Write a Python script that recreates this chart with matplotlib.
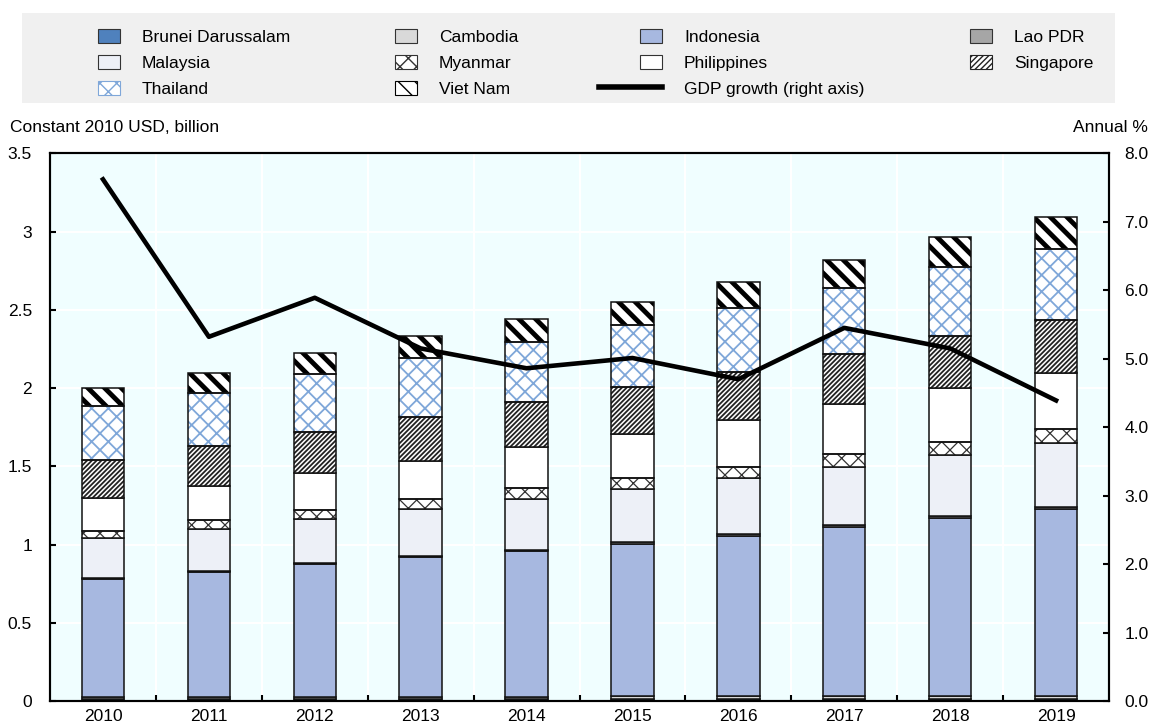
import matplotlib
matplotlib.use("Agg")
import matplotlib.pyplot as plt
import numpy as np
from matplotlib.patches import Patch, Rectangle
from matplotlib.lines import Line2D
from matplotlib.legend_handler import HandlerBase
from matplotlib.ticker import FormatStrFormatter

plt.rcParams['font.family'] = ['Liberation Sans', 'DejaVu Sans']

# data (USD trillion, constant 2010)
years = ['2010', '2011', '2012', '2013', '2014', '2015', '2016', '2017', '2018', '2019']
brunei = [0.012, 0.012, 0.013, 0.013, 0.013, 0.013, 0.012, 0.012, 0.012, 0.013]
cambodia = [0.011, 0.012, 0.013, 0.014, 0.015, 0.016, 0.017, 0.018, 0.020, 0.021]
indonesia = [0.755, 0.800, 0.850, 0.890, 0.930, 0.975, 1.025, 1.080, 1.135, 1.190]
lao = [0.007, 0.008, 0.008, 0.009, 0.010, 0.011, 0.011, 0.012, 0.013, 0.014]
malaysia = [0.257, 0.266, 0.279, 0.300, 0.323, 0.340, 0.358, 0.375, 0.392, 0.410]
myanmar = [0.047, 0.058, 0.060, 0.062, 0.068, 0.072, 0.074, 0.079, 0.085, 0.089]
philippines = [0.211, 0.217, 0.234, 0.246, 0.264, 0.279, 0.299, 0.322, 0.341, 0.362]
singapore = [0.243, 0.255, 0.262, 0.280, 0.290, 0.298, 0.308, 0.319, 0.334, 0.336]
thailand = [0.339, 0.339, 0.370, 0.381, 0.379, 0.396, 0.410, 0.424, 0.443, 0.452]
vietnam = [0.121, 0.128, 0.135, 0.138, 0.147, 0.151, 0.164, 0.177, 0.188, 0.205]
gdp_growth = [7.62, 5.32, 5.89, 5.15, 4.86, 5.01, 4.70, 5.45, 5.15, 4.39]

# name, values, fill, hatch, hatch colour, hatch width
series = [
    ('Brunei Darussalam', brunei, '#4F81BD', None, 'black', 0),
    ('Cambodia', cambodia, '#D9D9D9', None, 'black', 0),
    ('Indonesia', indonesia, '#A7B8E0', None, 'black', 0),
    ('Lao PDR', lao, '#A6A6A6', None, 'black', 0),
    ('Malaysia', malaysia, '#EDF0F7', None, 'black', 0),
    ('Myanmar', myanmar, 'white', 'xx', '#333333', 0.9),
    ('Philippines', philippines, 'white', None, 'black', 0),
    ('Singapore', singapore, 'white', '///////', '#222222', 1.3),
    ('Thailand', thailand, 'white', 'xx', '#7FA7D9', 1.3),
    ('Viet Nam', vietnam, 'white', '\\\\', 'black', 3.5),
]
legend_hatch = {'xx': 'xx', '///////': '//////', '\\\\': '\\\\'}

fig = plt.figure(figsize=(11.58, 7.27), dpi=100)
ax = fig.add_axes([0.0432, 0.0358, 0.9145, 0.7533])
ax.set_facecolor('#F0FEFF')

x = np.arange(len(years))
bottom = np.zeros(len(years))
handles = {}
for name, vals, color, hatch, hcolor, hlw in series:
    vals = np.array(vals)
    if hatch:
        plt.rcParams['hatch.linewidth'] = hlw
        bars = ax.bar(x, vals, 0.4, bottom=bottom, color=color, hatch=hatch,
                      edgecolor=hcolor, linewidth=0, zorder=2)
        for b in bars:
            if hasattr(b, 'set_hatch_linewidth'):
                b.set_hatch_linewidth(hlw)
        ax.bar(x, vals, 0.4, bottom=bottom, fill=False, edgecolor='#111111',
               linewidth=1.1, zorder=3)
        h = Patch(facecolor=color, edgecolor=hcolor, hatch=legend_hatch[hatch], linewidth=0.8)
    else:
        ax.bar(x, vals, 0.4, bottom=bottom, color=color, edgecolor='#111111',
               linewidth=1.1, zorder=2)
        h = Patch(facecolor=color, edgecolor='#333333', linewidth=0.8)
    handles[name] = h
    bottom += vals
plt.rcParams['hatch.linewidth'] = 1.0

ax.set_xlim(-0.5, len(years) - 0.5)
ax.set_ylim(0, 3.5)
ax.set_yticks(np.arange(0, 3.51, 0.5))
ax.set_yticklabels(['0', '0.5', '1', '1.5', '2', '2.5', '3', '3.5'])
ax.set_xticks(np.arange(0.5, len(years) - 1, 1))
ax.set_xticklabels([])
ax.set_xticks(x, minor=True)
ax.set_xticklabels(years, minor=True)
ax.tick_params(axis='x', which='minor', length=0, pad=6, labelsize=12.5)
ax.tick_params(axis='x', which='major', direction='in', length=4, width=1.5)
ax.tick_params(axis='y', direction='in', length=4, width=1.5, pad=13, labelsize=12.5)
ax.grid(True, which='major', color='white', linewidth=1.5, zorder=0)
ax.set_axisbelow(True)
for s in ax.spines.values():
    s.set_linewidth(1.5)

ax2 = ax.twinx()
ax2.set_ylim(0, 8)
ax2.set_yticks(np.arange(0, 8.1, 1))
ax2.yaxis.set_major_formatter(FormatStrFormatter('%.1f'))
ax2.tick_params(axis='y', direction='in', length=4, width=1.5, pad=11, labelsize=12.5)
ax2.plot(x, gdp_growth, color='black', linewidth=3.3, zorder=5)
for s in ax2.spines.values():
    s.set_linewidth(1.5)

fig.text(0.009, 0.824, 'Constant 2010 USD, billion', fontsize=12.5, va='center', ha='left')
fig.text(0.991, 0.824, 'Annual %', fontsize=12.5, va='center', ha='right')

# legend background
fig.patches.append(Rectangle((0.019, 0.8583), 0.944, 0.1238, transform=fig.transFigure,
                             facecolor='#F0F0F0', edgecolor='none', zorder=0))


class LongLine(HandlerBase):
    def create_artists(self, legend, orig_handle, xdescent, ydescent, width, height,
                       fontsize, trans):
        ln = Line2D([width - 45.4, width], [height / 2, height / 2], color='black',
                    linewidth=4, transform=trans)
        return [ln]


gdp_handle = Line2D([0], [0], color='black', linewidth=4)
columns = [
    (0.0846, ['Brunei Darussalam', 'Malaysia', 'Thailand']),
    (0.3411, ['Cambodia', 'Myanmar', 'Viet Nam']),
    (0.5527, ['Indonesia', 'Philippines', 'GDP growth (right axis)']),
    (0.8377, ['Lao PDR', 'Singapore']),
]
for xpos, names in columns:
    hs = [gdp_handle if n.startswith('GDP') else handles[n] for n in names]
    fig.legend(hs, names, loc='upper left', bbox_to_anchor=(xpos, 0.9605),
               frameon=False, fontsize=12.5, handlelength=1.27, handleheight=0.86,
               handletextpad=1.27, labelspacing=0.59, borderpad=0, borderaxespad=0,
               handler_map={gdp_handle: LongLine()})

fig.savefig('out.png', dpi=100)
